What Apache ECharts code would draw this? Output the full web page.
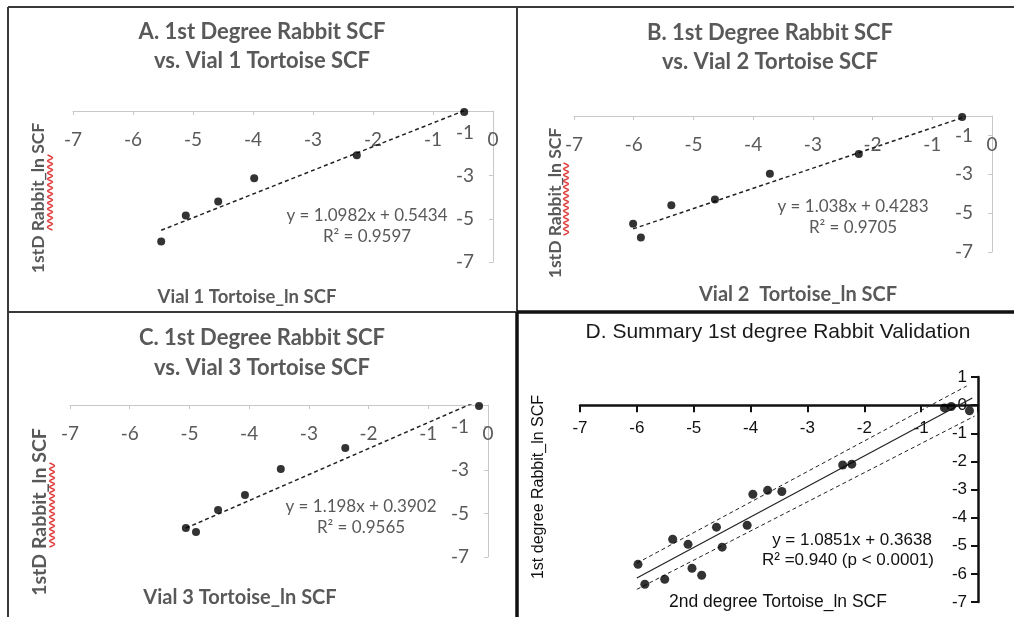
<!DOCTYPE html>
<html><head><meta charset="utf-8">
<script src="https://cdn.jsdelivr.net/npm/echarts@6/dist/echarts.min.js"></script>
<style>html,body{margin:0;padding:0;background:#fff}#c{width:1014px;height:617px}</style>
</head><body><div id="c"></div>
<script>
// ---- tick values ----
const xTicks = [-7, -6, -5, -4, -3, -2, -1, 0];
const yTicksABC = [-7, -5, -3, -1];
const yTicksD = [-7, -6, -5, -4, -3, -2, -1, 0, 1];
const xLabelsD = [-7, -6, -5, -4, -3, -2, -1];

// ---- panel A ----
const aX = [-0.48, -2.27, -3.98, -4.58, -5.12, -5.53];
const aY = [-0.05, -2.05, -3.12, -4.19, -4.84, -6.05];
const fitA = [1.0982, 0.5434];
// ---- panel B ----
const bX = [-0.50, -2.23, -3.72, -4.64, -5.37, -6.01, -5.88];
const bY = [-0.05, -1.95, -2.97, -4.30, -4.60, -5.54, -6.26];
const fitB = [1.038, 0.4283];
// ---- panel C ----
const cX = [-0.15, -2.39, -3.47, -4.07, -4.52, -5.06, -4.89];
const cY = [-0.05, -1.98, -2.95, -4.15, -4.84, -5.67, -5.85];
const fitC = [1.198, 0.3902];
// ---- panel D ----
const dX = [-0.59, -0.47, -0.15, -2.38, -2.22, -3.96, -3.70, -3.45, -4.60, -4.06, -5.37, -5.10, -4.50, -5.98, -5.03, -4.86, -5.51, -5.86];
const dY = [-0.10, -0.05, -0.20, -2.13, -2.10, -3.17, -3.03, -3.07, -4.34, -4.27, -4.77, -4.95, -5.05, -5.66, -5.80, -6.05, -6.19, -6.37];
const fitD = [1.0851, 0.3638];
const fitDRange = [-6.0, -0.1];
const bandUpperX = [-6.0, -0.2];
const bandUpperY = [-5.62, 0.68];
const bandLowerX = [-6.0, -0.06];
const bandLowerY = [-6.55, -0.39];

// ---- texts ----
const titles = [
  ['A. 1st Degree Rabbit SCF', 'vs. Vial 1 Tortoise SCF'],
  ['B. 1st Degree Rabbit SCF', 'vs. Vial 2 Tortoise SCF'],
  ['C. 1st Degree Rabbit SCF', 'vs. Vial 3 Tortoise SCF'],
  ['D. Summary 1st degree Rabbit Validation']
];
const xNames = ['Vial 1 Tortoise_ln SCF', 'Vial 2  Tortoise_ln SCF', 'Vial 3 Tortoise_ln SCF', '2nd degree Tortoise_ln SCF'];
const yNames = ['1stD Rabbit_ln SCF', '1stD Rabbit_ln SCF', '1stD Rabbit_ln SCF', '1st degree Rabbit_ln SCF'];
const eqs = [
  ['y = 1.0982x + 0.5434', 'R\u00b2 = 0.9597'],
  ['y = 1.038x + 0.4283', 'R\u00b2 = 0.9705'],
  ['y = 1.198x + 0.3902', 'R\u00b2 = 0.9565'],
  ['y = 1.0851x + 0.3638', 'R\u00b2 =0.940 (p < 0.0001)']
];

const XL = 'Lato, "Open Sans", sans-serif';
const AR = '"Liberation Sans", Arial, sans-serif';
const GRAY = '#595959';
const AXC = '#c8c8c8';

function pts(xs, ys) { return xs.map((x, i) => [x, ys[i]]); }
function fitLine(xs, f) {
  const lo = Math.min(...xs), hi = Math.max(...xs);
  return [[lo, f[0] * lo + f[1]], [hi, f[0] * hi + f[1]]];
}

const grids = [
  { left: 73, top: 111, width: 420, height: 151 },
  { left: 574, top: 116, width: 418, height: 136 },
  { left: 70, top: 405, width: 418, height: 152 },
  { left: 580, top: 377, width: 398, height: 225 }
];
const dYMin = -7, dYMax = 1;
// x axis of panel D crosses the y axis at 0
const dXOffset = -grids[3].height * (0 - dYMin) / (dYMax - dYMin);

function xAxisABC(i) {
  return {
    gridIndex: i, type: 'value', min: -7, max: 0, interval: 1, position: 'top',
    axisLine: { onZero: false, lineStyle: { color: AXC, width: 1 } },
    axisTick: { show: true, inside: true, length: 4, lineStyle: { color: AXC } },
    axisLabel: { inside: true, margin: 19, color: GRAY, fontSize: 19, fontFamily: XL, showMinLabel: true, showMaxLabel: true },
    splitLine: { show: false }
  };
}
function yAxisABC(i) {
  return {
    gridIndex: i, type: 'value', min: -7, max: 0, interval: 1, position: 'right',
    axisLine: { show: true, onZero: false, lineStyle: { color: AXC, width: 1 } },
    axisTick: { show: true, inside: true, length: 4, lineStyle: { color: AXC }, customValues: yTicksABC },
    axisLabel: { inside: true, margin: 19, color: GRAY, fontSize: 19, fontFamily: XL, customValues: yTicksABC },
    splitLine: { show: false }
  };
}

const xAxes = [xAxisABC(0), xAxisABC(1), xAxisABC(2), {
  gridIndex: 3, type: 'value', min: -7, max: 0, interval: 1, position: 'bottom', offset: dXOffset,
  axisLine: { onZero: false, lineStyle: { color: '#111', width: 2.5 } },
  axisTick: { show: true, length: 7, lineStyle: { color: '#111', width: 2 }, customValues: xTicks },
  axisLabel: { margin: 15, color: '#111', fontSize: 17, fontFamily: AR, customValues: xLabelsD },
  splitLine: { show: false }
}];
const yAxes = [yAxisABC(0), yAxisABC(1), yAxisABC(2), {
  gridIndex: 3, type: 'value', min: dYMin, max: dYMax, interval: 1, position: 'right',
  axisLine: { show: true, onZero: false, lineStyle: { color: '#111', width: 2.5 } },
  axisTick: { show: true, inside: true, length: 7, lineStyle: { color: '#111', width: 2 }, customValues: yTicksD },
  axisLabel: { inside: true, margin: 11, color: '#111', fontSize: 17, fontFamily: AR, customValues: yTicksD },
  splitLine: { show: false }
}];

const scatterStyle = { color: '#000' };
function scatter(i, data, size) {
  return { type: 'scatter', xAxisIndex: i, yAxisIndex: i, data: data, symbolSize: size, itemStyle: scatterStyle, z: 5, silent: true };
}
function line(i, data, type, width) {
  return { type: 'line', xAxisIndex: i, yAxisIndex: i, data: data, showSymbol: false, symbol: 'none',
    lineStyle: { color: '#222', width: width, type: type }, z: 3, silent: true };
}

const series = [
  line(0, fitLine(aX, fitA), [4, 3], 1.5), scatter(0, pts(aX, aY), 8),
  line(1, fitLine(bX, fitB), [4, 3], 1.5), scatter(1, pts(bX, bY), 8),
  line(2, fitLine(cX, fitC), [4, 3], 1.5), scatter(2, pts(cX, cY), 8),
  line(3, fitDRange.map(x => [x, fitD[0] * x + fitD[1]]), 'solid', 1.2),
  line(3, pts(bandUpperX, bandUpperY), [4, 3], 1),
  line(3, pts(bandLowerX, bandLowerY), [4, 3], 1),
  scatter(3, pts(dX, dY), 9)
];

// ---- graphic: borders, texts, squiggles ----
const g = [];
function L(x1, y1, x2, y2, c, w) { g.push({ type: 'line', shape: { x1, y1, x2, y2 }, style: { stroke: c, lineWidth: w }, z: 1 }); }
L(8, 7, 1014, 7, '#3a3a3a', 2);
L(8, 7, 8, 617, '#3a3a3a', 2);
L(517, 7, 517, 312, '#3a3a3a', 2);
L(8, 312, 517, 312, '#3a3a3a', 2);
L(517, 312, 1014, 312, '#111', 3.5);
L(517, 312, 517, 617, '#111', 3.5);

function T(text, x, y, font, size, weight, color, rot) {
  g.push({ type: 'text', x, y, rotation: rot || 0, z: 10,
    style: { text, fill: color, font: weight + ' ' + size + 'px ' + font, align: 'center', verticalAlign: 'middle' } });
}
// titles
const titlePos = [[262, 32, 61], [770, 33, 62], [262, 338, 368]];
titlePos.forEach((p, i) => { T(titles[i][0], p[0], p[1], XL, 22, 'bold', GRAY); T(titles[i][1], p[0], p[2], XL, 22, 'bold', GRAY); });
T(titles[3][0], 778, 332, AR, 21, 'normal', '#1a1a1a');
// axis names
T(xNames[0], 247, 297, XL, 18.5, 'bold', GRAY);
T(xNames[1], 798, 295, XL, 20, 'bold', GRAY);
T(xNames[2], 240, 598, XL, 20, 'bold', GRAY);
T(xNames[3], 778, 602, AR, 17.5, 'normal', '#111');
T(yNames[0], 38, 198, XL, 17.5, 'bold', GRAY, Math.PI / 2);
T(yNames[1], 555, 203, XL, 17.5, 'bold', GRAY, Math.PI / 2);
T(yNames[2], 40, 512, XL, 19.5, 'bold', GRAY, Math.PI / 2);
T(yNames[3], 539, 487, AR, 16, 'normal', '#111', Math.PI / 2);
// equations
T(eqs[0][0], 367, 216, XL, 17, 'normal', GRAY); T(eqs[0][1], 367, 237, XL, 17, 'normal', GRAY);
T(eqs[1][0], 853, 207, XL, 17, 'normal', GRAY); T(eqs[1][1], 853, 228, XL, 17, 'normal', GRAY);
T(eqs[2][0], 361, 507, XL, 17, 'normal', GRAY); T(eqs[2][1], 361, 528, XL, 17, 'normal', GRAY);
T(eqs[3][0], 852, 540, AR, 17, 'normal', '#111'); T(eqs[3][1], 848, 560, AR, 17, 'normal', '#111');
// red spell-check squiggles
function squiggle(cx, y0, y1) {
  const p = []; let k = 0;
  for (let y = y0; y <= y1; y += 3, k++) p.push([cx + (k % 2 ? 2.5 : -2.5), y]);
  g.push({ type: 'polyline', shape: { points: p, smooth: 0.4 }, style: { stroke: '#e03a3a', lineWidth: 1.5, fill: null }, z: 9 });
}
squiggle(50, 155, 230);
squiggle(566, 163, 235);
squiggle(52, 463, 548);

const chart = echarts.init(document.getElementById('c'), null, { renderer: 'canvas' });
chart.setOption({
  animation: false,
  backgroundColor: '#fff',
  grid: grids,
  xAxis: xAxes,
  yAxis: yAxes,
  series: series,
  graphic: g
});
</script></body></html>
